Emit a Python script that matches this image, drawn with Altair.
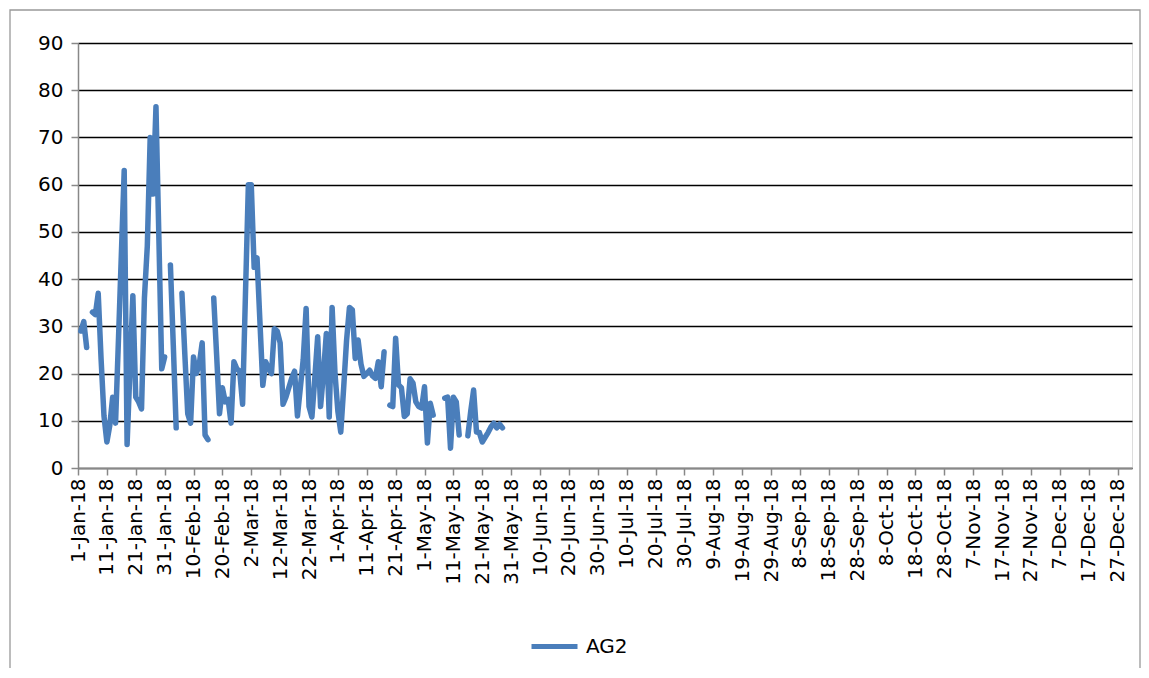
import altair as alt
import pandas as pd

# day offset from 1-Jan-2018 -> AG2 value (None = gap)
days = list(range(1, 148))
values = [
    29, 31, 25.5, None, 33, 32.5, 37, 23, 11, 5.5,          # 1-10
    9, 15, 9.5, 27, 45, 63, 5, 21, 36.5, 15,                # 11-20
    14, 12.5, 36, 47, 70, 58, 76.5, 49, 21, 23.5,           # 21-30
    None, 43, 26, 8.5, None, 37, 24, 11.5, 9.5, 23.5,       # 31-40
    20, 22, 26.5, 7, 6, None, 36, 24, 11.5, 17,             # 41-50
    14, 14.5, 9.5, 22.5, 21, 20.5, 13.5, 37, 60, 60,        # 51-60
    42.5, 44.5, 31, 17.5, 22.5, 21, 20, 29.5, 29, 26.5,     # 61-70
    13.5, 15, 17, 19, 20.5, 11, 17, 23, 33.8, 13,           # 71-80
    10.8, 19, 27.8, 13, 20, 28.5, 10.8, 34, 20, 12,         # 81-90
    7.6, 17, 27, 34, 33.5, 23.2, 27.1, 22, 19.4, 20,        # 91-100
    20.7, 19.5, 19, 22.5, 17.2, 24.6, None, 13.3, 13, 27.5, # 101-110
    17.6, 17, 10.9, 11.5, 18.9, 18, 14, 13, 12.7, 17.2,     # 111-120
    5.3, 13.7, 11.2, None, None, None, 14.8, 15, 4.2, 15,   # 121-130
    14, 7, None, None, 6.8, 12, 16.5, 7.6, 7.5, 5.5,        # 131-140
    6.5, 7.5, 8.7, 9.5, 8.5, 9.3, 8.5,                      # 141-147
]
series_name = "AG2"
y_ticks = list(range(0, 91, 10))

start = pd.Timestamp("2018-01-01")
dates = [(start + pd.Timedelta(days=d)).strftime("%Y-%m-%d") for d in days]
df = pd.DataFrame({"date": dates, "value": values, "series": series_name})

def ms(ts):
    return int(ts.value // 10**6)

x_domain = [ms(start), ms(pd.Timestamp("2019-01-01"))]
x_ticks = [ms(start + pd.Timedelta(days=10 * k)) for k in range(37)]

FONT = "DejaVu Sans"

line = alt.Chart(df).mark_line(
    strokeWidth=5.5, strokeCap="round", strokeJoin="round",
    invalid="break-paths-show-domains",
).encode(
    x=alt.X("date:T",
            scale=alt.Scale(type="utc", domain=x_domain, nice=False),
            axis=alt.Axis(values=x_ticks,
                          labelExpr="utcFormat(datum.value, '%-d-%b-%y')",
                          labelAngle=-90, labelFontSize=20, labelFont=FONT,
                          labelColor="black", labelPadding=3, labelOverlap=False,
                          labelBound=False, labelFlush=False,
                          domainColor="#888888", domainWidth=1.5,
                          tickColor="#888888", tickWidth=1.5, tickSize=7,
                          grid=False, title=None, zindex=1)),
    y=alt.Y("value:Q",
            scale=alt.Scale(domain=[0, 90], nice=False, zero=True),
            axis=alt.Axis(values=y_ticks, labelFontSize=20, labelFont=FONT,
                          labelColor="black", labelPadding=8,
                          domainColor="#888888", domainWidth=1.5,
                          tickColor="#888888", tickWidth=1.5, tickSize=7,
                          grid=True, gridColor="black", gridWidth=1.3,
                          title=None)),
    color=alt.Color("series:N",
                    scale=alt.Scale(range=["#4a7ebb"]),
                    legend=alt.Legend(title=None, orient="none",
                                      legendX=451, legendY=578,
                                      symbolType="stroke", symbolSize=2116,
                                      symbolStrokeWidth=5,
                                      labelFontSize=20, labelFont=FONT,
                                      labelColor="black", labelOffset=6)),
)

frame = alt.Chart(alt.Data(values=[{}])).mark_rect(
    filled=False, stroke="#999999", strokeWidth=1.3
).encode(
    x=alt.value(-68), x2=alt.value(1062), y=alt.value(-33), y2=alt.value(660)
)

chart = alt.layer(frame, line).properties(
    width=1054, height=425,
    autosize=alt.AutoSizeParams(type="none"),
    padding={"left": 70, "top": 35, "right": 9, "bottom": 200},
).configure_view(stroke=None).configure(background="white")

chart.save("out.html", embed_options={"renderer": "svg", "actions": False})
